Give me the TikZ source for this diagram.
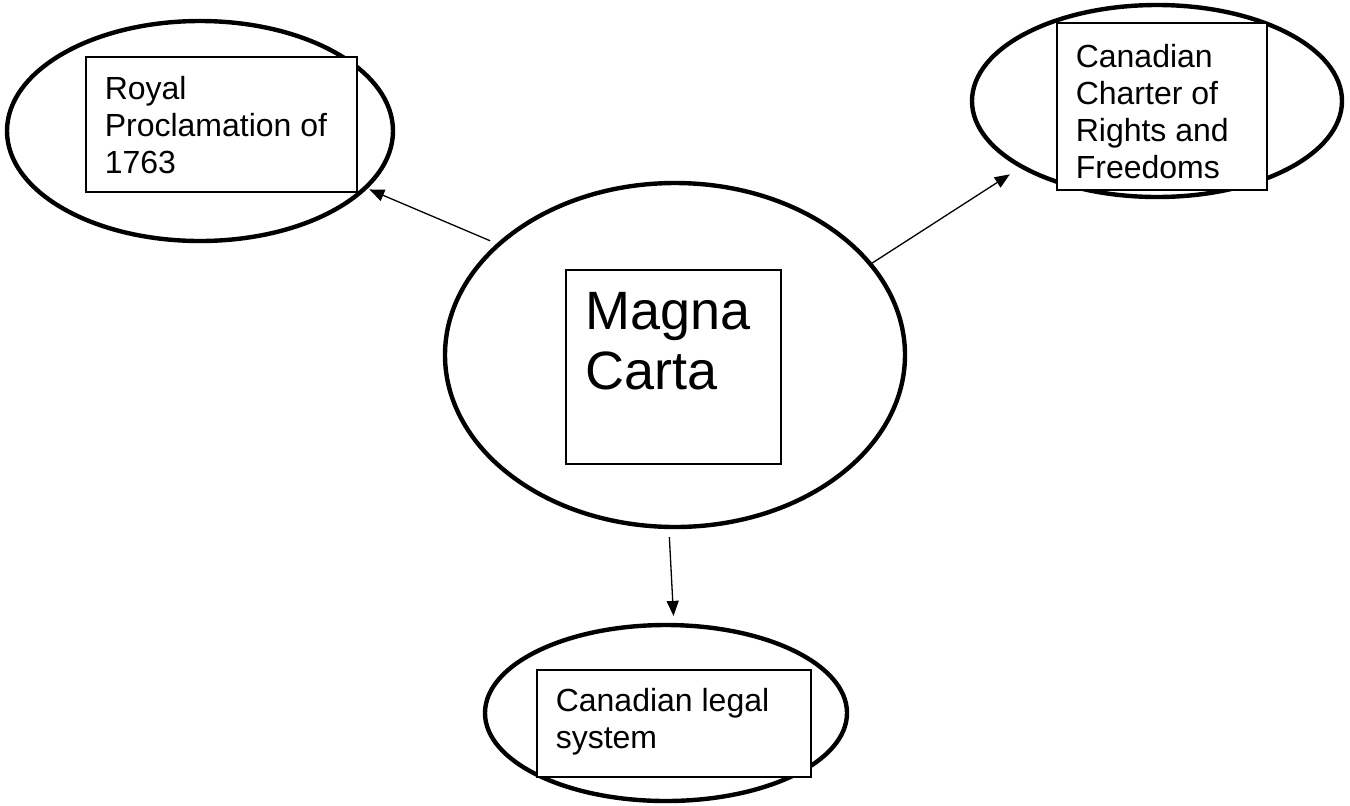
\documentclass[tikz,border=0pt]{standalone}
\usepackage{fontspec}
\setmainfont{Liberation Sans}
\usetikzlibrary{shapes.geometric,arrows.meta}

\tikzset{
  bubble/.style={draw, ellipse, line width=2.2pt, inner sep=0pt},
  card/.style={draw, rectangle, line width=0.6pt, fill=white, inner sep=0pt},
  cardtext/.style={anchor=north west, inner sep=0pt, align=left, font=\fontsize{16pt}{18.5pt}\selectfont},
  link/.style={-{Triangle[length=7.5pt,width=6pt]}, line width=0.65pt}
}

\begin{document}
\begin{tikzpicture}[x=0.5pt,y=-0.5pt]

    % Fix the page to the size of the picture
    \useasboundingbox (0,0) rectangle (1350,805);

    % Draw the ellipses
    \node[bubble, minimum width=193pt, minimum height=110pt] (rp) at (200,131) {};
    \node[bubble, minimum width=185pt, minimum height=96pt] (cc) at (1157,101) {};
    \node[bubble, minimum width=230pt, minimum height=172pt] (mc) at (675,355) {};
    \node[bubble, minimum width=181pt, minimum height=88pt] (ls) at (666,713) {};

    % Draw the arrows from the middle
    \draw[link, shorten <=3.5pt, shorten >=1pt] (mc.148) -- (rp.-19);
    \draw[link, shorten >=6pt] (mc.25) -- (cc.206);
    \draw[link, shorten <=4pt, shorten >=3.5pt] (mc.268) -- (ls.85);

    % Draw the boxes on top of the ellipses
    \node[card, minimum width=135.5pt, minimum height=67.5pt] (rpbox) at (221.5,124.5) {};
    \node[card, minimum width=105pt, minimum height=83.5pt] (ccbox) at (1162,106.5) {};
    \node[card, minimum width=107.5pt, minimum height=97pt] (mcbox) at (673.5,367) {};
    \node[card, minimum width=137pt, minimum height=53.5pt] (lsbox) at (674,723.5) {};

    % Add the texts in the boxes
    \node[cardtext] (rptext) at ([shift={(19,20)}]rpbox.north west) {Royal\\Proclamation of\\1763};
    \node[cardtext] (cctext) at ([shift={(19,22)}]ccbox.north west) {Canadian\\Charter of\\Rights and\\Freedoms};
    \node[cardtext, font=\fontsize{27pt}{30pt}\selectfont] (mctext) at ([shift={(20,23)}]mcbox.north west) {Magna\\Carta};
    \node[cardtext] (lstext) at ([shift={(19,18)}]lsbox.north west) {Canadian legal\\system};

\end{tikzpicture}
\end{document}
